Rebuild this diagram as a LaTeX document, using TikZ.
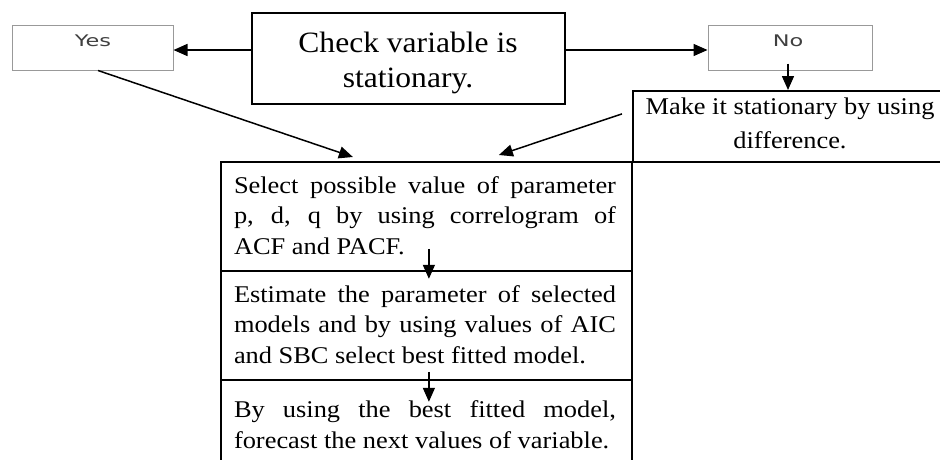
\documentclass[tikz,border=0pt]{standalone}
\usepackage{fontspec}
\setmainfont{Liberation Serif}
\newfontfamily\bodyfont[FakeStretch=1.1]{Liberation Serif}
\newfontfamily\checkfont[FakeStretch=1.07]{Liberation Serif}
\newfontfamily\makefont[FakeStretch=1.1]{Liberation Serif}
\newfontfamily\ynfont[FakeStretch=1.4]{DejaVu Sans}
\usetikzlibrary{arrows.meta}
\begin{document}
\begin{tikzpicture}[x=1pt,y=-1pt,
  box/.style={draw, line width=1.8pt, inner sep=0pt},
  ynbox/.style={draw=black!40, line width=1pt, inner sep=0pt},
  arr/.style={line width=1.5pt, -{Triangle[length=14pt,width=12pt]}},
  yntext/.style={font=\fontsize{16}{16}\ynfont, text=black!75, inner sep=0pt},
  body/.style={font=\fontsize{24}{30.7}\bodyfont, text width=382pt, align=justify, inner sep=0pt},
]
\fill[white] (0,0) rectangle (940,459);
\useasboundingbox (0,0) rectangle (940,459);
\clip (0,0) rectangle (940,459);

\node[ynbox, minimum width=161pt, minimum height=45pt] (yes) at (92.5,47.5) {};
\node[yntext] (yestxt) at (93,41) {Yes};
\node[ynbox, minimum width=164pt, minimum height=45pt] (no) at (790,47.5) {};
\node[yntext] (notxt) at (788,41) {No};
\node[box, minimum width=313pt, minimum height=91pt] (check) at (408.5,58.5) {};
\node[align=center, inner sep=0pt, font=\fontsize{29.5}{35}\checkfont] (checktxt) at (408,63) {Check variable is\\stationary.};

\node[box, minimum width=330pt, minimum height=71pt, anchor=north west] (make) at (632,90) {};
\node[font=\fontsize{24}{34}\makefont, align=center, inner sep=0pt] (maketxt) at (790,123) {Make it stationary by using\\difference.};

\node[box, minimum width=411pt, minimum height=109pt, anchor=north west] (s1) at (220,161) {};
\node[box, minimum width=411pt, minimum height=109pt, anchor=north west] (s2) at (220,270) {};
\node[box, minimum width=411pt, minimum height=130pt, anchor=north west] (s3) at (220,379) {};

\node[body] (t1) at (425,215.5) {\noindent Select possible value of parameter\linebreak p, d, q by using correlogram of\linebreak ACF and PACF.};
\node[body] (t2) at (425,324.5) {\noindent Estimate the parameter of selected\linebreak models and by using values of AIC\linebreak and SBC select best fitted model.};
\node[body] (t3) at (425,424.5) {\noindent By using the best fitted model,\linebreak forecast the next values of variable.};

\coordinate (ay) at (0,50);
\draw[arr] (check.west |- ay) -- (yes.east |- ay);
\draw[arr] (check.east |- ay) -- (no.west |- ay);
\draw[arr] ([xshift=-2pt,yshift=7pt]no.south) -- ([xshift=-2pt]no.south |- make.north);
\draw[arr] ([xshift=5.5pt]yes.south) -- ([xshift=-73.5pt,yshift=4pt]s1.north);
\draw[arr] ([xshift=-10pt,yshift=12.5pt]make.west) -- ([xshift=72.5pt,yshift=6pt]s1.north);
\draw[arr] ([xshift=2.5pt,yshift=23pt]s1.south) -- ([xshift=2.5pt,yshift=-7pt]s1.south);
\draw[arr] ([xshift=2.5pt,yshift=9pt]s2.south) -- ([xshift=2.5pt,yshift=-21pt]s2.south);
\end{tikzpicture}
\end{document}
